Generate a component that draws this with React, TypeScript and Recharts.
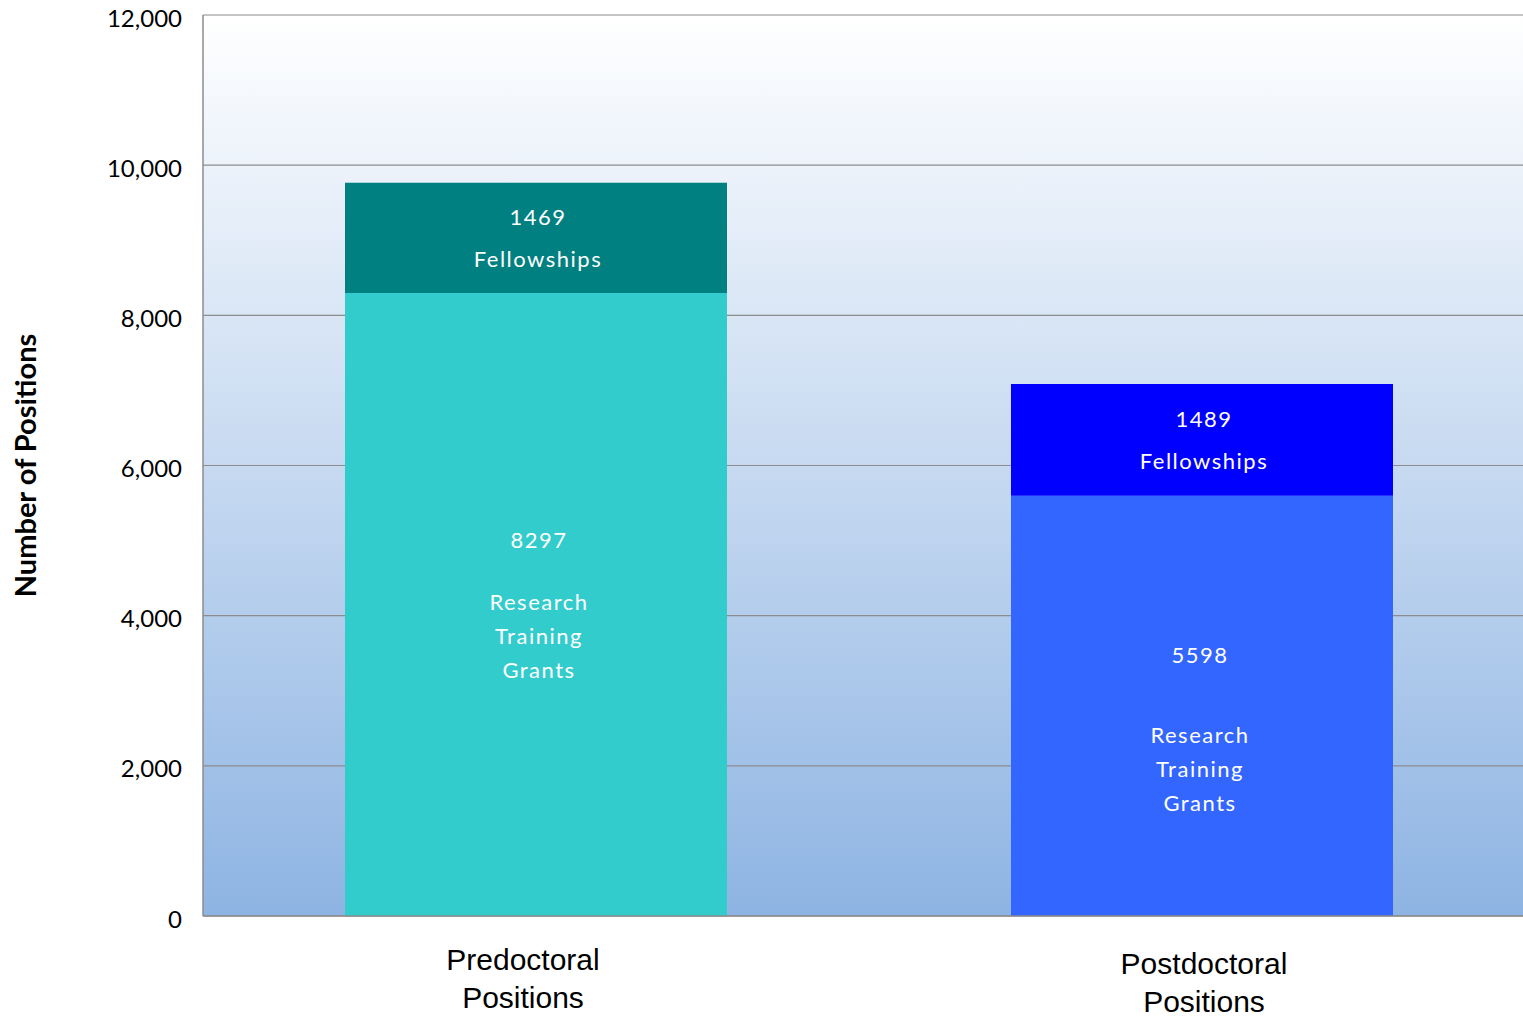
import { Bar, BarChart, CartesianGrid, Cell, LabelList, XAxis, YAxis } from "recharts";

const categories = ["Predoctoral\nPositions", "Postdoctoral\nPositions"];
const researchTraining = [8297, 5598];
const fellowships = [1469, 1489];
const yTicks = [0, 2000, 4000, 6000, 8000, 10000, 12000];

const researchColors = ["#33CCCC", "#3366FF"];
const fellowColors = ["#008080", "#0000FF"];

const data = categories.map((name, i) => ({
  name,
  research: researchTraining[i],
  fellow: fellowships[i],
}));

const labelFont = "Lato, 'Open Sans', sans-serif";

// text boxes in the original were placed by hand, so nudge a bit per bar
const researchShift = [0, 14];
const researchGap = [62, 80];
const categoryNudge = [-13, 2];

const FellowLabel = (props: any) => {
  const { x, y, width, height, value } = props;
  const cx = x + width / 2 + 2;
  const cy = y + height / 2;
  return (
    <g fill="#fff" fontFamily={labelFont} fontSize={22} letterSpacing={1.5} textAnchor="middle">
      <text x={cx} y={cy - 21} dominantBaseline="central">{value}</text>
      <text x={cx} y={cy + 21} dominantBaseline="central">Fellowships</text>
    </g>
  );
};

const ResearchLabel = (props: any) => {
  const { x, y, width, height, value, index } = props;
  const cx = x + width / 2 + (index === 0 ? 3 : -2);
  const top = y + height / 2 - 65 + (researchShift[index] || 0);
  const gap = researchGap[index] || 62;
  return (
    <g fill="#fff" fontFamily={labelFont} fontSize={22} letterSpacing={1.5} textAnchor="middle">
      <text x={cx} y={top} dominantBaseline="central">{value}</text>
      <text x={cx} y={top + gap} dominantBaseline="central">Research</text>
      <text x={cx} y={top + gap + 34} dominantBaseline="central">Training</text>
      <text x={cx} y={top + gap + 68} dominantBaseline="central">Grants</text>
    </g>
  );
};

const CategoryTick = (props: any) => {
  const { x, y, payload, index } = props;
  const lines = String(payload.value).split("\n");
  const dx = categoryNudge[index] || 0;
  return (
    <g>
      {lines.map((line, i) => (
        <text
          key={i}
          x={x + dx}
          y={y + 46 + i * 38 + (index === 1 ? 4 : 0)}
          textAnchor="middle"
          fontFamily="'Liberation Sans', Arial, sans-serif"
          fontSize={30}
          fill="#000"
        >
          {line}
        </text>
      ))}
    </g>
  );
};

export default function App() {
  return (
    <div style={{ position: "absolute", left: 0, top: 0, width: 1523, height: 1017, background: "#fff" }}>
      <BarChart
        width={1523}
        height={1017}
        data={data}
        margin={{ top: 15, right: 0, bottom: 0, left: 0 }}
        barSize={382}
      >
        <defs>
          <linearGradient id="plotBg" x1="0" y1="0" x2="0" y2="1">
            <stop offset="0%" stopColor="#FFFFFF" />
            <stop offset="100%" stopColor="#8EB4E3" />
          </linearGradient>
        </defs>
        <CartesianGrid vertical={false} stroke="#8C8C8C" strokeWidth={1.2} fill="url(#plotBg)" fillOpacity={1} />
        <XAxis
          dataKey="name"
          height={101}
          tickLine={false}
          axisLine={{ stroke: "#8C8C8C", strokeWidth: 1.5 }}
          tick={<CategoryTick />}
          interval={0}
          padding={{ left: 0, right: -12 }}
        />
        <YAxis
          width={203}
          domain={[0, 12000]}
          ticks={yTicks}
          tickLine={false}
          tickMargin={15}
          axisLine={{ stroke: "#8C8C8C", strokeWidth: 1.5 }}
          tickFormatter={(v: number) => v.toLocaleString("en-US")}
          tick={{ fill: "#000", fontSize: 24, fontFamily: labelFont, dy: 3 }}
          label={{
            value: "Number of Positions",
            angle: -90,
            position: "insideLeft",
            offset: 26,
            style: { textAnchor: "middle", fontFamily: labelFont, fontWeight: 700, fontSize: 29, fill: "#000" },
          }}
        />
        <Bar dataKey="research" stackId="a" isAnimationActive={false}>
          {data.map((_, i) => (
            <Cell key={`r-${i}`} fill={researchColors[i]} />
          ))}
          <LabelList dataKey="research" content={<ResearchLabel />} />
        </Bar>
        <Bar dataKey="fellow" stackId="a" isAnimationActive={false}>
          {data.map((_, i) => (
            <Cell key={`f-${i}`} fill={fellowColors[i]} />
          ))}
          <LabelList dataKey="fellow" content={<FellowLabel />} />
        </Bar>
      </BarChart>
    </div>
  );
}
